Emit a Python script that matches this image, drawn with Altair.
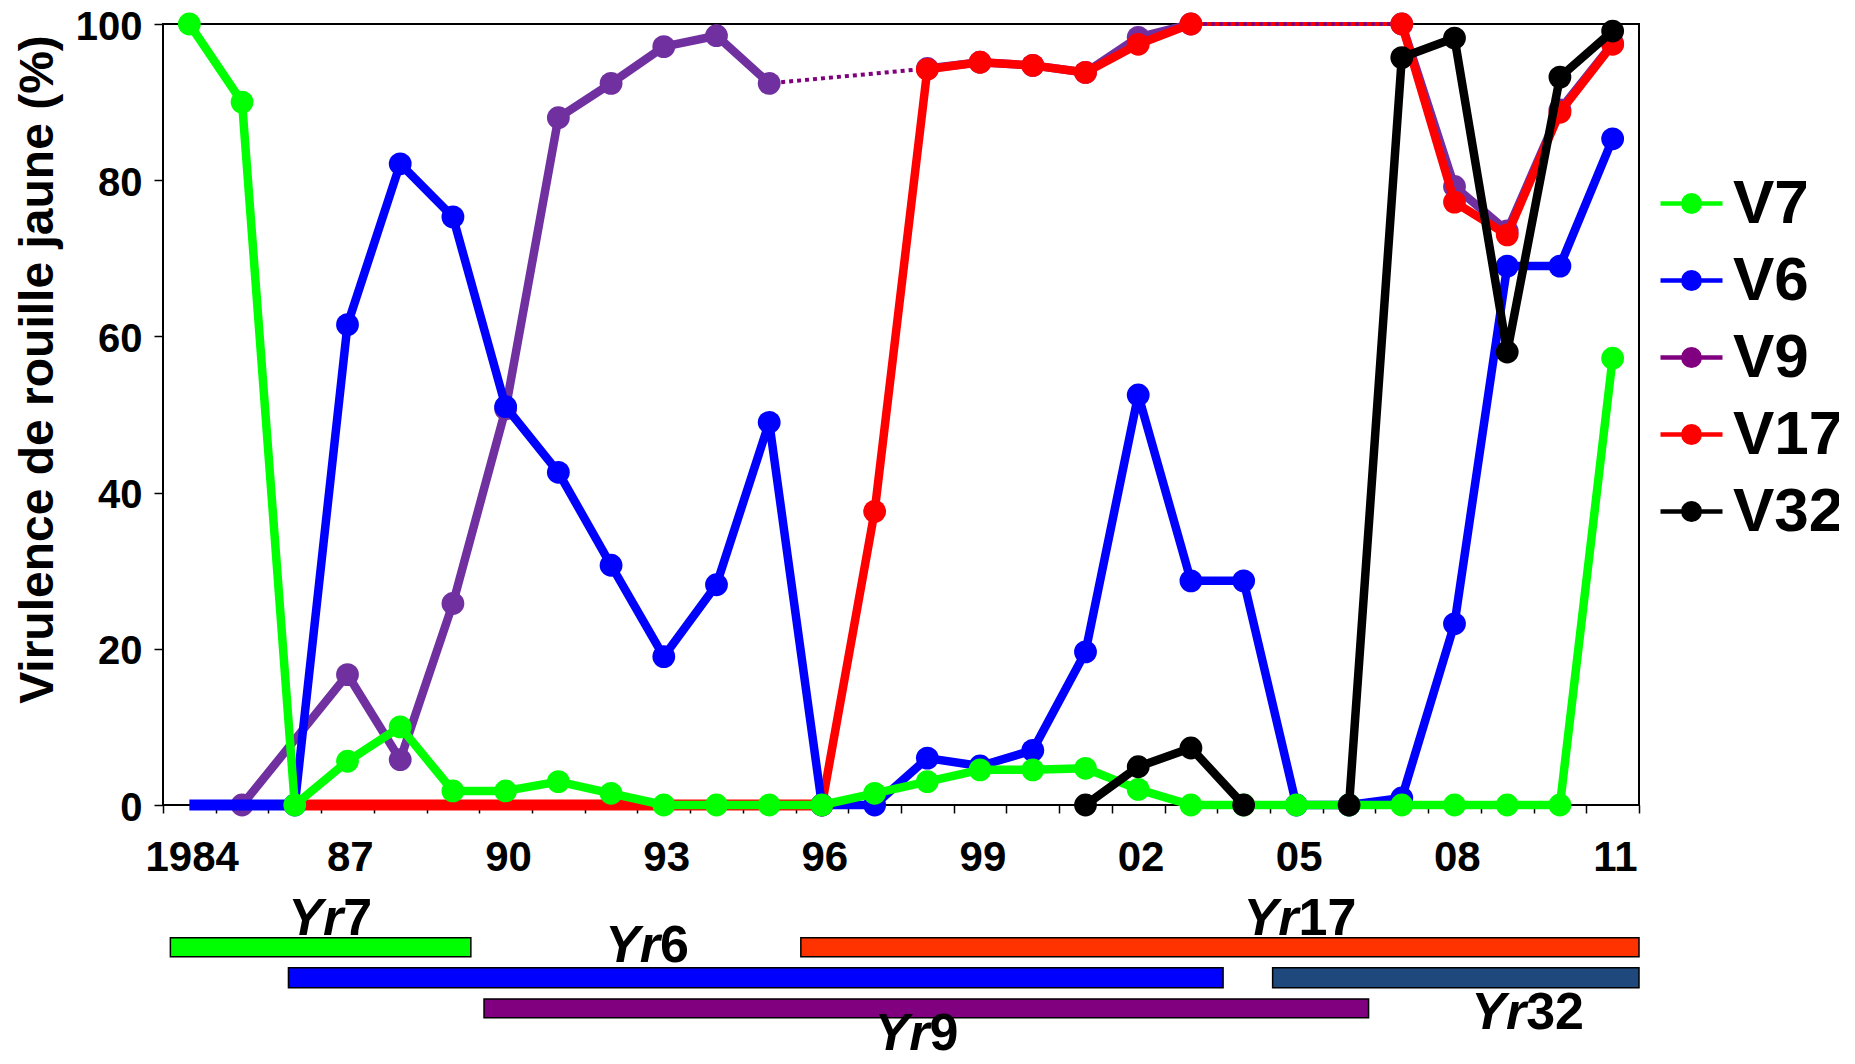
import altair as alt
import pandas as pd

# ---------------- data ----------------
years = list(range(1984, 2012))
v7 = [100, 90, 0, 5.6, 10, 1.8, 1.8, 3, 1.5, 0, 0, 0, 0, 1.5, 3, 4.5, 4.5, 4.7, 2,
      0, 0, 0, 0, 0, 0, 0, 0, 57.2]
v6 = [0, 0, 0, 61.5, 82.1, 75.3, 51, 42.6, 30.7, 19, 28.2, 49, 0, 0, 6, 5, 7, 19.6,
      52.5, 28.7, 28.7, 0, 0, 0.9, 23.2, 69, 69, 85.3]
v9 = [None, 0, None, 16.7, 5.8, 25.8, 50.7, 88, 92.4, 97.1, 98.5, 92.4, None, None,
      94.3, 95.1, 94.7, 93.8, 98.3, 100, None, None, None, 100, 79.2, 73.5, 89, 97.5]
v17 = [None, None, 0, 0, 0, 0, 0, 0, 0, 0, 0, 0, 0, 37.6, 94.2, 95.1, 94.7, 93.8,
       97.4, 100, None, None, None, 100, 77.2, 73, 88.7, 97.4]
v32 = [None] * 17 + [0, 4.9, 7.3, 0, None, 0, 95.7, 98.2, 58, 93.2, 99.1]

series_names = ["V7", "V6", "V9", "V17", "V32"]
legend_colors = ["#00FF00", "#0000FF", "#800080", "#FF0000", "#000000"]
line_colors = {"V7": "#00FF00", "V6": "#0000FF", "V9": "#7030A0", "V17": "#FF0000", "V32": "#000000"}
dotted_colors = {"V9": "#800080", "V17": "#FF0000"}
values = {"V7": v7, "V6": v6, "V9": v9, "V17": v17, "V32": v32}
draw_order = ["V9", "V17", "V6", "V7", "V32"]

# gaps drawn dotted, gaps left open, years drawn without marker
dotted = {"V9": [(1995, 1998), (2003, 2007)], "V17": [(2003, 2007)]}
breaks = {"V32": [(2004, 2006)]}
unmarked = {"V6": [1984, 1985], "V17": list(range(1986, 1996))}

label_years = [1984, 1987, 1990, 1993, 1996, 1999, 2002, 2005, 2008, 2011]
label_texts = ["1984", "87", "90", "93", "96", "99", "02", "05", "08", "11"]
y_ticks = [0, 20, 40, 60, 80, 100]

genes = ["Yr7", "Yr17", "Yr6", "Yr32", "Yr9"]
gene_start = [1983.64, 1995.60, 1985.88, 2004.55, 1989.59]
gene_end = [1989.34, 2011.50, 2003.61, 2011.50, 2006.37]
gene_top = [-16.99, -16.99, -20.83, -20.83, -24.84]
gene_bottom = [-19.42, -19.42, -23.41, -23.41, -27.23]
gene_colors = ["#00FF00", "#FF3300", "#0000FF", "#1F497D", "#800080"]
gene_label_x = [1986.92, 2005.04, 1992.93, 2009.36, 1998.04]
gene_label_y = [-16.7, -16.7, -20.1, -28.7, -31.4]

FONT = "Liberation Sans"

# ---------------- scales / axes ----------------
x_scale = alt.Scale(domain=[1983.5, 2011.5], nice=False, zero=False)
y_scale = alt.Scale(domain=[0, 100], nice=False, zero=False)

tick_edges = [y - 0.5 for y in years] + [years[-1] + 0.5]
expr = "''"
for yv, t in reversed(list(zip(label_years, label_texts))):
    expr = f"datum.value == {yv + 0.5} ? '{t}' : ({expr})"

x_axis = alt.Axis(values=tick_edges, labelExpr=expr, labelOffset=-24,
                  labelFont=FONT, labelFontSize=42, labelFontWeight="bold",
                  labelColor="black", labelPadding=24, labelOverlap=False,
                  labelFlush=False, tickSize=8, tickWidth=1.5, tickColor="black",
                  domain=False, grid=False, title=None)
y_axis = alt.Axis(values=y_ticks, format="d", labelFont=FONT, labelFontSize=40,
                  labelFontWeight="bold", labelColor="black", labelPadding=12,
                  labelBaseline="alphabetic", labelOffset=15,
                  labelFlush=False, tickSize=9, tickWidth=1.5, tickColor="black",
                  domain=False, grid=False,
                  title="Virulence de rouille jaune (%)", titleFont=FONT,
                  titleFontSize=48, titleFontWeight="bold", titleColor="black",
                  titleAngle=270, titleX=-111, titleY=345, titleAlign="center",
                  titleBaseline="alphabetic")


def X(f):
    return alt.X(f, type="quantitative", scale=x_scale, axis=x_axis)


def Y(f):
    return alt.Y(f, type="quantitative", scale=y_scale, axis=y_axis)


# ---------------- build line runs ----------------
line_rows = []
point_rows = []
run_id = 0
for name in draw_order:
    vals = values[name]
    pts = [(yr, v) for yr, v in zip(years, vals) if v is not None]
    runs = []
    for (ya, va), (yb, vb) in zip(pts[:-1], pts[1:]):
        if (ya, yb) in breaks.get(name, []):
            continue
        if (ya, yb) in dotted.get(name, []):
            style = "dotted"
        elif ya in unmarked.get(name, []) or yb in unmarked.get(name, []):
            style = "flat"
        else:
            style = "solid"
        if runs and runs[-1][0] == style and runs[-1][1][-1] == (ya, va):
            runs[-1][1].append((yb, vb))
        else:
            runs.append((style, [(ya, va), (yb, vb)]))
    for style, rp in runs:
        run_id += 1
        for yr, v in rp:
            line_rows.append({"series": name, "style": style, "run": run_id, "year": yr, "value": v})
    for yr, v in pts:
        if yr not in unmarked.get(name, []):
            point_rows.append({"series": name, "year": yr, "value": v})

lines_df = pd.DataFrame(line_rows)
points_df = pd.DataFrame(point_rows)

layers = []

# legend-only layer (no data)
r_list = [0.265, 0.139, 0.032]
sym = "M-1,0H1" + "".join(
    f"M{-r},0a{r},{r} 0 1,0 {2*r},0a{r},{r} 0 1,0 {-2*r},0" for r in r_list)
legend_df = pd.DataFrame({"series": pd.Series([], dtype=str),
                          "year": pd.Series([], dtype=float),
                          "value": pd.Series([], dtype=float)})
layers.append(
    alt.Chart(legend_df).mark_line(strokeWidth=4.5).encode(
        x=X("year"), y=Y("value"),
        color=alt.Color("series:N",
                        scale=alt.Scale(domain=series_names, range=legend_colors),
                        legend=alt.Legend(orient="none", legendX=1495, legendY=146,
                                          direction="vertical", title=None,
                                          symbolType=sym, symbolSize=3844,
                                          symbolStrokeWidth=4.5, symbolOpacity=1,
                                          labelFont=FONT, labelFontSize=62,
                                          labelFontWeight="bold", labelColor="black",
                                          labelOffset=8, rowPadding=12, padding=0,
                                          labelLimit=400)))
)

for name in draw_order:
    d = lines_df[lines_df["series"] == name]
    c = line_colors[name]
    for style in ["dotted", "flat", "solid"]:
        ds = d[d["style"] == style]
        if ds.empty:
            continue
        if style == "dotted":
            mk = alt.Chart(ds).mark_line(color=dotted_colors[name], strokeWidth=4,
                                         strokeDash=[4, 4],
                                         strokeDashOffset=4 if name == "V9" else 0)
        elif style == "flat":
            mk = alt.Chart(ds).mark_line(color=c, strokeWidth=11)
        else:
            mk = alt.Chart(ds).mark_line(color=c, strokeWidth=8.5, strokeJoin="round")
        layers.append(mk.encode(x=X("year"), y=Y("value"), detail="run:N"))
    p = points_df[points_df["series"] == name]
    layers.append(alt.Chart(p).mark_circle(size=520, opacity=1, color=c).encode(
        x=X("year"), y=Y("value")))

# gene bars
bars_df = pd.DataFrame({"gene": genes, "start": gene_start, "end": gene_end,
                        "top": gene_top, "bottom": gene_bottom, "col": gene_colors,
                        "lx": gene_label_x, "ly": gene_label_y,
                        "prefix": [g[:2] for g in genes], "num": [g[2:] for g in genes]})
layers.append(
    alt.Chart(bars_df).mark_rect(stroke="black", strokeWidth=1.5).encode(
        x=X("start"), x2="end", y=Y("top"), y2="bottom",
        color=alt.Color("col:N", scale=None))
)
layers.append(
    alt.Chart(bars_df).mark_text(font=FONT, fontSize=52, fontWeight="bold",
                                 fontStyle="italic", align="right",
                                 baseline="alphabetic", color="black").encode(
        x=X("lx"), y=Y("ly"), text="prefix:N")
)
layers.append(
    alt.Chart(bars_df).mark_text(font=FONT, fontSize=52, fontWeight="bold",
                                 align="left", baseline="alphabetic",
                                 color="black").encode(
        x=X("lx"), y=Y("ly"), text="num:N")
)

chart = alt.layer(*layers).properties(
    width=1476, height=781,
    autosize=alt.AutoSizeParams(type="none"),
    padding={"left": 155, "top": 16, "right": 200, "bottom": 251},
    background="white",
).configure_view(stroke="black", strokeWidth=2)

chart.save("out.html", embed_options={"renderer": "svg", "actions": False})
